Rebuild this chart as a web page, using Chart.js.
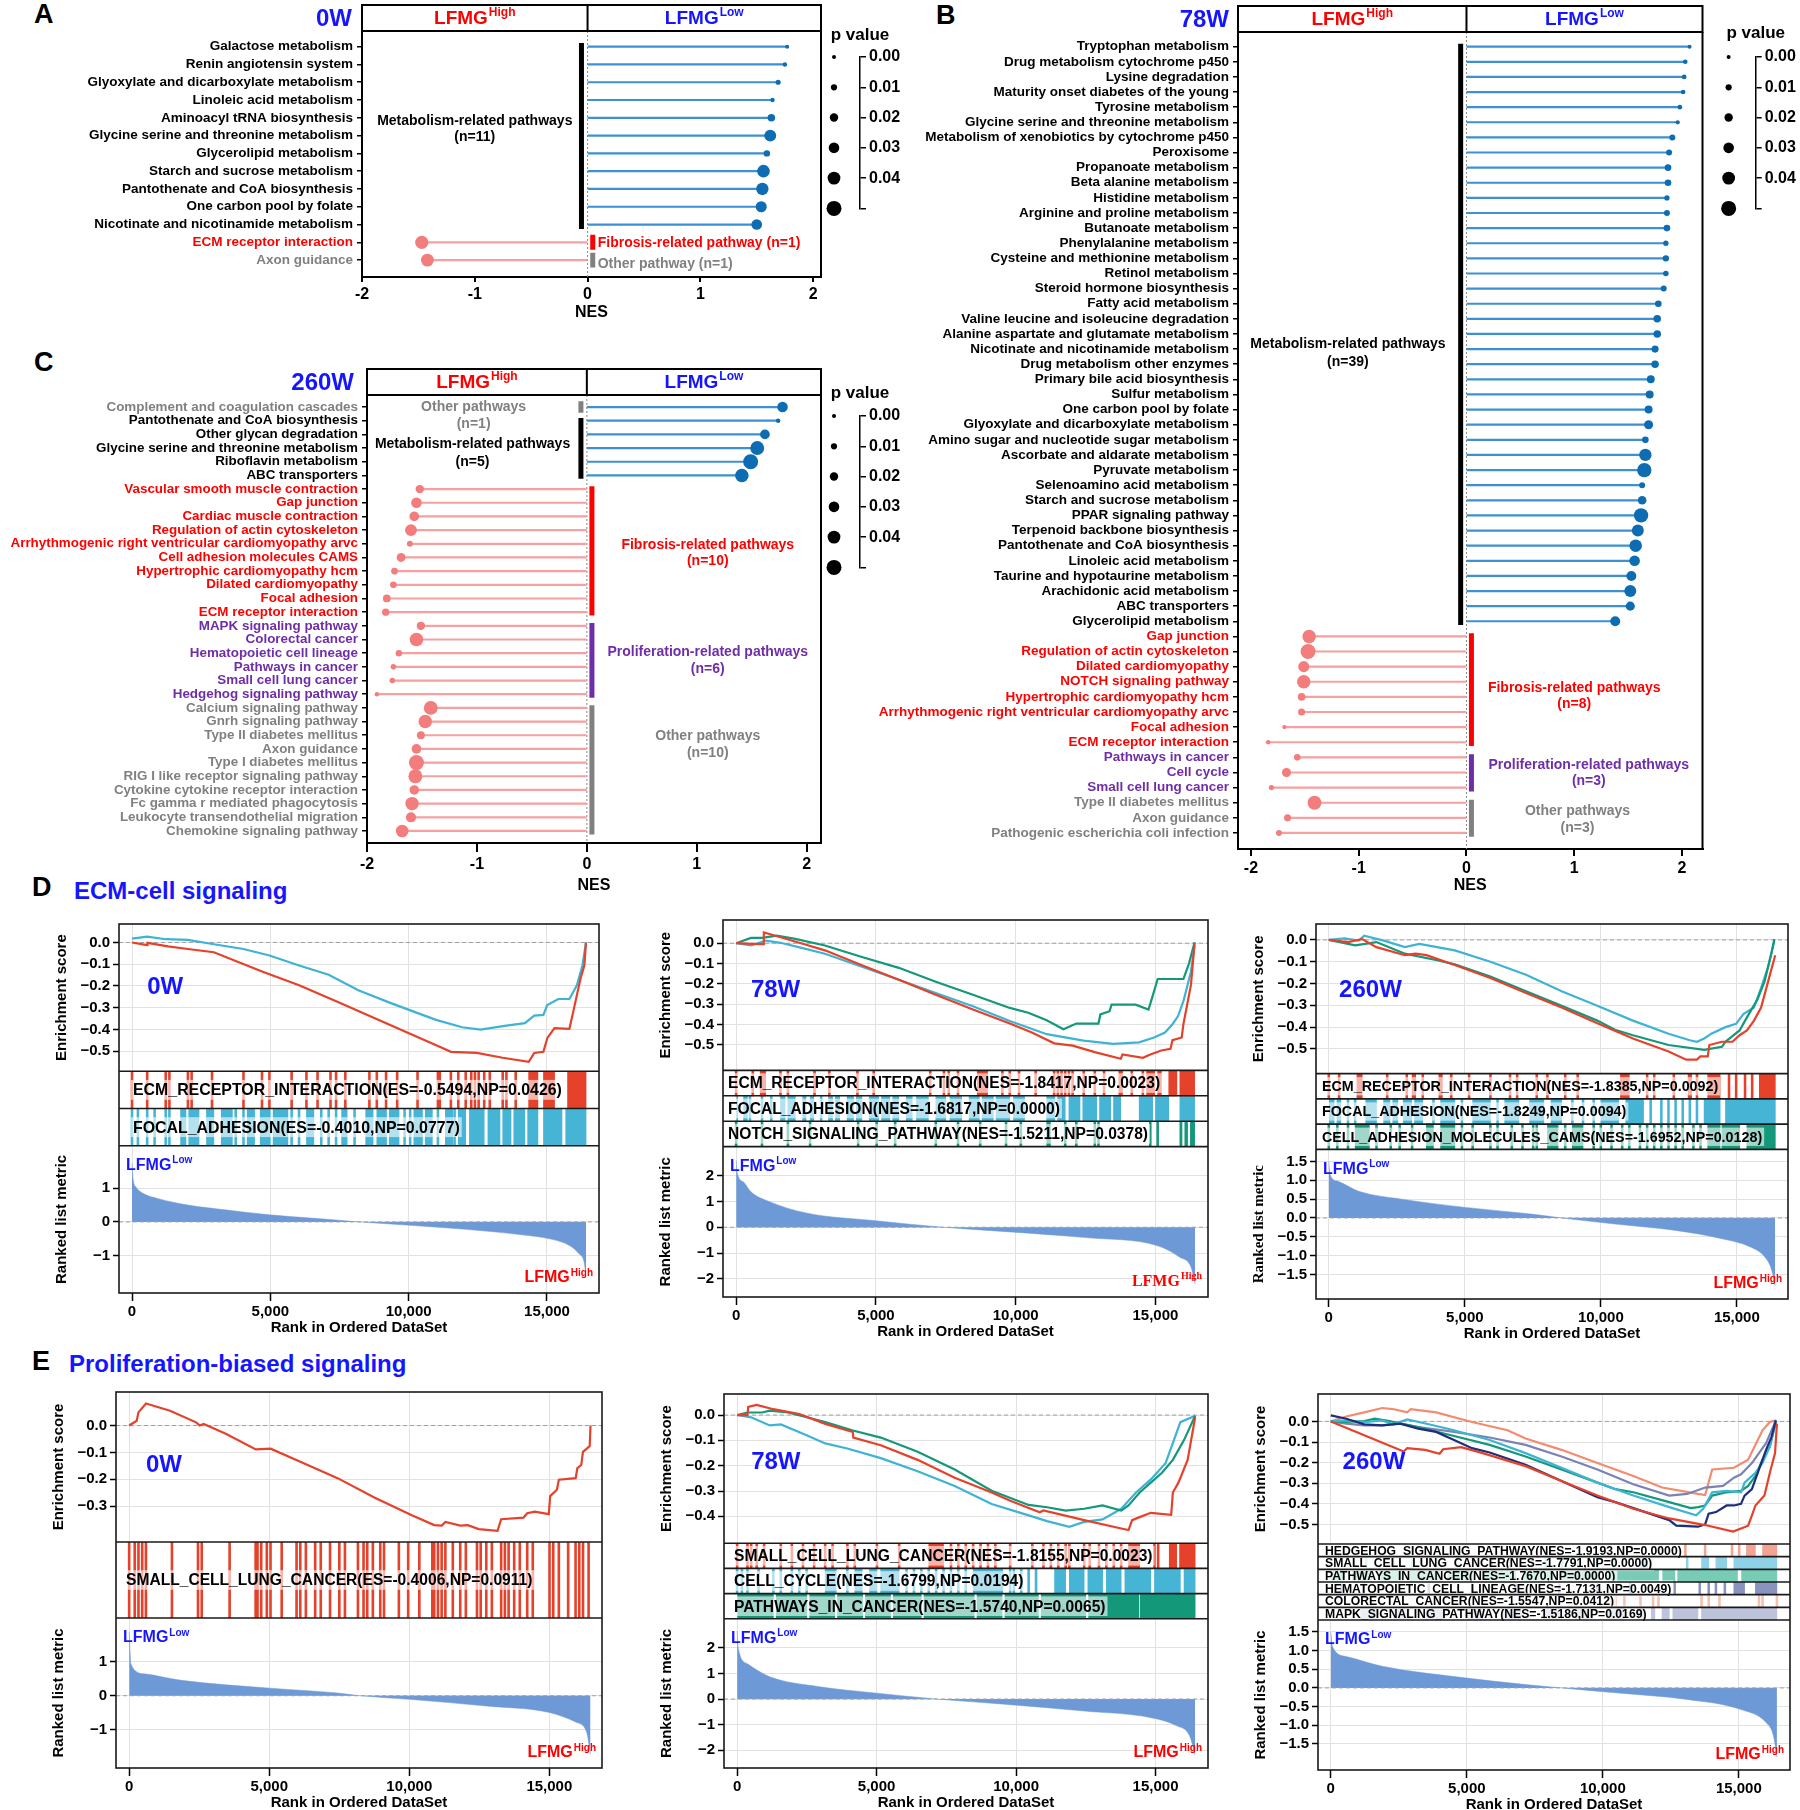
<!DOCTYPE html>
<html>
<head>
<meta charset="utf-8">
<title>LFMG GSEA summary</title>
<script src="https://cdn.jsdelivr.net/npm/chart.js"></script>
<style>
  html, body { margin: 0; padding: 0; background: #fff; }
  body { position: relative; width: 1800px; height: 1810px; overflow: hidden; font-family: "Liberation Sans", Arial, sans-serif; }
  canvas { position: absolute; }
  .tag { position: absolute; font-weight: bold; line-height: 1; white-space: nowrap; }
</style>
</head>
<body>
<div class="tag" style="left:34px;top:1px;font-size:27px">A</div>
<div class="tag" style="left:936px;top:2px;font-size:27px">B</div>
<div class="tag" style="left:34px;top:349px;font-size:27px">C</div>
<div class="tag" style="left:32px;top:874px;font-size:27px">D</div>
<div class="tag" style="left:74px;top:879px;font-size:24px;color:#1515ff">ECM-cell signaling</div>
<div class="tag" style="left:32px;top:1348px;font-size:27px">E</div>
<div class="tag" style="left:69px;top:1352px;font-size:24px;color:#1515ff">Proliferation-biased signaling</div>

<canvas id="cA" width="835" height="326" style="left:0px;top:0px"></canvas>
<canvas id="lA" width="120" height="205" style="left:800px;top:16px"></canvas>
<canvas id="cB" width="860" height="899" style="left:850px;top:0px"></canvas>
<canvas id="lB" width="106" height="205" style="left:1694px;top:16px"></canvas>
<canvas id="cC" width="835" height="535" style="left:0px;top:364px"></canvas>
<canvas id="lC" width="120" height="205" style="left:800px;top:375px"></canvas>

<canvas id="cD1" width="552" height="429" style="left:53px;top:912px"></canvas>
<canvas id="cD2" width="557" height="437" style="left:657px;top:908px"></canvas>
<canvas id="cD3" width="544" height="435" style="left:1250px;top:912px"></canvas>
<canvas id="cE1" width="558" height="436" style="left:50px;top:1380px"></canvas>
<canvas id="cE2" width="556" height="434" style="left:658px;top:1382px"></canvas>
<canvas id="cE3" width="544" height="436" style="left:1252px;top:1382px"></canvas>

<script>
// ---------- panel A (0W) ----------
const catsA = ['Galactose metabolism', 'Renin angiotensin system', 'Glyoxylate and dicarboxylate metabolism',
  'Linoleic acid metabolism', 'Aminoacyl tRNA biosynthesis', 'Glycine serine and threonine metabolism',
  'Glycerolipid metabolism', 'Starch and sucrose metabolism', 'Pantothenate and CoA biosynthesis',
  'One carbon pool by folate', 'Nicotinate and nicotinamide metabolism', 'ECM receptor interaction', 'Axon guidance'];
const nesA = [1.77, 1.75, 1.69, 1.64, 1.63, 1.62, 1.59, 1.56, 1.55, 1.54, 1.50, -1.47, -1.42];
const pA = [0.0, 0.002, 0.005, 0.002, 0.016, 0.036, 0.011, 0.039, 0.038, 0.032, 0.03, 0.042, 0.04];
const groupsA = [
  {name: 'Metabolism-related pathways', kind: 'met', from: 0, to: 10},
  {name: 'Fibrosis-related pathway', kind: 'fib', from: 11, to: 11},
  {name: 'Other pathway', kind: 'oth', from: 12, to: 12}
];

// ---------- panel B (78W) ----------
const catsB = ['Tryptophan metabolism', 'Drug metabolism cytochrome p450', 'Lysine degradation',
  'Maturity onset diabetes of the young', 'Tyrosine metabolism', 'Glycine serine and threonine metabolism',
  'Metabolism of xenobiotics by cytochrome p450', 'Peroxisome', 'Propanoate metabolism', 'Beta alanine metabolism',
  'Histidine metabolism', 'Arginine and proline metabolism', 'Butanoate metabolism', 'Phenylalanine metabolism',
  'Cysteine and methionine metabolism', 'Retinol metabolism', 'Steroid hormone biosynthesis', 'Fatty acid metabolism',
  'Valine leucine and isoleucine degradation', 'Alanine aspartate and glutamate metabolism',
  'Nicotinate and nicotinamide metabolism', 'Drug metabolism other enzymes', 'Primary bile acid biosynthesis',
  'Sulfur metabolism', 'One carbon pool by folate', 'Glyoxylate and dicarboxylate metabolism',
  'Amino sugar and nucleotide sugar metabolism', 'Ascorbate and aldarate metabolism', 'Pyruvate metabolism',
  'Selenoamino acid metabolism', 'Starch and sucrose metabolism', 'PPAR signaling pathway',
  'Terpenoid backbone biosynthesis', 'Pantothenate and CoA biosynthesis', 'Linoleic acid metabolism',
  'Taurine and hypotaurine metabolism', 'Arachidonic acid metabolism', 'ABC transporters', 'Glycerolipid metabolism',
  'Gap junction', 'Regulation of actin cytoskeleton', 'Dilated cardiomyopathy', 'NOTCH signaling pathway',
  'Hypertrophic cardiomyopathy hcm', 'Arrhythmogenic right ventricular cardiomyopathy arvc', 'Focal adhesion',
  'ECM receptor interaction', 'Pathways in cancer', 'Cell cycle', 'Small cell lung cancer',
  'Type II diabetes mellitus', 'Axon guidance', 'Pathogenic escherichia coli infection'];
const nesB = [2.07, 2.03, 2.02, 2.01, 1.98, 1.96, 1.91, 1.88, 1.87, 1.87, 1.86, 1.86, 1.86, 1.85, 1.85, 1.85, 1.83,
  1.78, 1.77, 1.77, 1.75, 1.75, 1.71, 1.70, 1.69, 1.69, 1.66, 1.66, 1.65, 1.63, 1.63, 1.62, 1.59, 1.57, 1.56, 1.53,
  1.52, 1.52, 1.38,
  -1.46, -1.47, -1.51, -1.51, -1.53, -1.53, -1.69, -1.84,
  -1.57, -1.67, -1.81,
  -1.41, -1.66, -1.74];
const pB = [0.0, 0.003, 0.003, 0.003, 0.003, 0.001, 0.009, 0.009, 0.012, 0.012, 0.006, 0.009, 0.012, 0.006, 0.011,
  0.007, 0.009, 0.012, 0.016, 0.016, 0.014, 0.016, 0.018, 0.018, 0.018, 0.023, 0.012, 0.038, 0.047, 0.009, 0.021,
  0.047, 0.036, 0.039, 0.03, 0.027, 0.036, 0.023, 0.027,
  0.043, 0.05, 0.032, 0.043, 0.016, 0.014, 0.001, 0.002,
  0.012, 0.023, 0.005,
  0.045, 0.014, 0.009];
const groupsB = [
  {name: 'Metabolism-related pathways', kind: 'met', from: 0, to: 38},
  {name: 'Fibrosis-related pathways', kind: 'fib', from: 39, to: 46},
  {name: 'Proliferation-related pathways', kind: 'pro', from: 47, to: 49},
  {name: 'Other pathways', kind: 'oth', from: 50, to: 52}
];

// ---------- panel C (260W) ----------
const catsC = ['Complement and coagulation cascades', 'Pantothenate and CoA biosynthesis', 'Other glycan degradation',
  'Glycine serine and threonine metabolism', 'Riboflavin metabolism', 'ABC transporters',
  'Vascular smooth muscle contraction', 'Gap junction', 'Cardiac muscle contraction', 'Regulation of actin cytoskeleton',
  'Arrhythmogenic right ventricular cardiomyopathy arvc', 'Cell adhesion molecules CAMS', 'Hypertrophic cardiomyopathy hcm',
  'Dilated cardiomyopathy', 'Focal adhesion', 'ECM receptor interaction',
  'MAPK signaling pathway', 'Colorectal cancer', 'Hematopoietic cell lineage', 'Pathways in cancer',
  'Small cell lung cancer', 'Hedgehog signaling pathway',
  'Calcium signaling pathway', 'Gnrh signaling pathway', 'Type II diabetes mellitus', 'Axon guidance',
  'Type I diabetes mellitus', 'RIG I like receptor signaling pathway', 'Cytokine cytokine receptor interaction',
  'Fc gamma r mediated phagocytosis', 'Leukocyte transendothelial migration', 'Chemokine signaling pathway'];
const nesC = [1.78, 1.74, 1.62, 1.55, 1.49, 1.41,
  -1.52, -1.55, -1.57, -1.60, -1.61, -1.69, -1.75, -1.76, -1.82, -1.83,
  -1.51, -1.55, -1.71, -1.76, -1.77, -1.91,
  -1.42, -1.47, -1.51, -1.55, -1.55, -1.56, -1.57, -1.59, -1.60, -1.68];
const pC = [0.03, 0.002, 0.026, 0.045, 0.05, 0.043,
  0.02, 0.03, 0.026, 0.036, 0.009, 0.022, 0.012, 0.012, 0.017, 0.015,
  0.02, 0.044, 0.011, 0.007, 0.007, 0.002,
  0.045, 0.043, 0.018, 0.026, 0.05, 0.045, 0.025, 0.043, 0.028, 0.039];
const groupsC = [
  {name: 'Other pathways', kind: 'oth', from: 0, to: 0},
  {name: 'Metabolism-related pathways', kind: 'met', from: 1, to: 5},
  {name: 'Fibrosis-related pathways', kind: 'fib', from: 6, to: 15},
  {name: 'Proliferation-related pathways', kind: 'pro', from: 16, to: 21},
  {name: 'Other pathways', kind: 'oth', from: 22, to: 31}
];

const pLevels = [0, 0.01, 0.02, 0.03, 0.04, 0.05];

// ---------- D: ECM-cell signaling ----------
const d1Labels = ['ECM_RECEPTOR_INTERACTION(ES=-0.5494,NP=0.0426)', 'FOCAL_ADHESION(ES=-0.4010,NP=0.0777)'];
const d1EcmEs = [[0,0],[550,-0.012],[560,-0.002],[1300,-0.018],[2020,-0.03],[2960,-0.045],[4700,-0.133],[6040,-0.197],
  [7380,-0.27],[8715,-0.345],[10050,-0.42],[11120,-0.48],[11530,-0.503],[12460,-0.508],[13400,-0.53],[14340,-0.549],
  [14540,-0.508],[14870,-0.503],[15010,-0.44],[15270,-0.394],[15810,-0.397],[15950,-0.318],[16210,-0.167],
  [16350,-0.106],[16410,0]];
const d1FocalEs = [[0,0.018],[550,0.027],[1220,0.015],[2020,0.012],[2960,-0.008],[4030,-0.03],[4970,-0.06],
  [6040,-0.106],[7110,-0.148],[8180,-0.22],[9380,-0.28],[10990,-0.356],[11930,-0.39],[12600,-0.401],[13530,-0.382],
  [14200,-0.371],[14540,-0.336],[14870,-0.333],[15010,-0.288],[15410,-0.26],[15810,-0.26],[16080,-0.197],
  [16280,-0.106],[16410,0]];
const d1EcmHits = [0, 549, 1218, 1352, 2021, 2155, 2892, 4030, 4699, 4967, 5770, 6305, 6707, 7175, 7376, 7711, 8581,
  8849, 9183, 9585, 10321, 11058, 11124, 11526, 11794, 12062, 12262, 12396, 12530, 12731, 12932, 13400, 13534, 13869,
  [14337,14672], [14873,15274], [15743,16412]];
const d1FocalHits = [0, 214, 549, 817, 1218, 1352, [1755,1950], [2050,2423], [2691,2958], [3226,3628], 3748, 4030,
  [4163,4431], [4633,5000], [5100,5636], 5770, 6038, [6305,6573], 6841, 7108, 7376, [7576,7777], 8045, [8447,8715],
  [8849,9200], [9300,9653], 9853, 10054, [10187,10500], [10600,10856], 11058, [11326,11593], 11660, [11794,12062],
  [12196,12731], [12865,13300], [13400,13700], [13800,14200], [14300,14672], [14873,15542], [15676,16412]];
const d1Metric = [[0,1.75],[40,1.27],[150,1.03],[415,0.84],[950,0.69],[2020,0.5],[3360,0.36],[4970,0.21],[6710,0.1],
  [8050,0.01],[10050,-0.1],[12060,-0.22],[14070,-0.38],[15140,-0.51],[15810,-0.7],[16150,-0.94],[16350,-1.23],
  [16410,-1.66]];

const d2Labels = ['ECM_RECEPTOR_INTERACTION(NES=-1.8417,NP=0.0023)', 'FOCAL_ADHESION(NES=-1.6817,NP=0.0000)',
  'NOTCH_SIGNALING_PATHWAY(NES=-1.5211,NP=0.0378)'];
const d2EcmEs = [[0,0],[595,-0.003],[980,-0.005],[990,0.053],[1590,0.029],[2380,-0.003],[3175,-0.035],[4500,-0.108],
  [5820,-0.18],[7140,-0.253],[8470,-0.326],[9790,-0.395],[10580,-0.439],[11380,-0.492],[12040,-0.503],
  [12830,-0.535],[13760,-0.568],[13820,-0.547],[14550,-0.563],[14815,-0.547],[15210,-0.527],[15540,-0.519],
  [15610,-0.476],[15940,-0.463],[16000,-0.398],[16270,-0.205],[16400,0]];
const d2FocalEs = [[0,0],[530,-0.011],[1060,0.013],[1590,0.002],[2380,-0.024],[3175,-0.052],[4500,-0.116],
  [5820,-0.18],[7140,-0.245],[8470,-0.31],[9790,-0.382],[11110,-0.447],[12430,-0.479],[13490,-0.495],
  [14420,-0.487],[14950,-0.463],[15340,-0.439],[15610,-0.398],[15810,-0.358],[16000,-0.285],[16270,-0.14],
  [16400,-0.011]];
const d2NotchEs = [[0,0],[530,0.026],[930,0.026],[1455,0.037],[2116,0.021],[3175,-0.011],[4500,-0.068],[5820,-0.121],
  [7140,-0.189],[8470,-0.253],[9790,-0.318],[10450,-0.342],[11110,-0.379],[11710,-0.423],[12170,-0.395],
  [12960,-0.395],[13030,-0.35],[13360,-0.334],[13430,-0.302],[14290,-0.302],[14750,-0.326],[14880,-0.269],
  [15080,-0.176],[16000,-0.176],[16200,-0.1],[16400,0.005]];
const d2EcmHits = [0, 595, [860,1058], 1587, 1852, 2804, 3333, 4339, 4921, 6944, 7434, 7606, 7937, [8624,8995], 9524,
  9788, 10119, 10714, 11376, 11508, 11640, 11772, 11905, 12037, 12434, 12831, 13161, [13690,13823], 14153, 14550,
  [14683,14974], [15079,15212], [15476,15767], [15873,16402]];
const d2FocalHits = [[0,60], [265,400], [460,529], 926, 1257, [1587,1750], [1850,2116], [2381,2500], [2650,2778], 3042,
  [3307,3450], [3550,3704], [3968,4200], [4300,4497], [4762,5100], [5200,5500], [5600,5820], [6085,6300], [6450,6878],
  [7143,7500], [7650,8069], [8333,8700], [8800,9200], [9300,9788], [9921,10317], [11111,11400], [11500,11772],
  [11905,12300], [12400,12900], [13000,13400], [13500,13757], [14418,14900], [15000,15476], [15873,16402]];
const d2NotchHits = [0, 926, 1852, 2646, 4365, 5026, 5688, 7143, 7937, 8730, 9656, 10185, [11111,11243], 11772, 12169,
  12831, 12963, 14815, 15079, [15873,15950], [16050,16150], [16250,16402]];
const d2Metric = [[0,2.6],[40,2.1],[265,1.75],[530,1.37],[1190,0.99],[2510,0.55],[5000,0.25],[7400,0],[9800,-0.18],
  [12500,-0.4],[15080,-0.72],[15870,-1.16],[16270,-1.54],[16420,-2.2]];

const d3Labels = ['ECM_RECEPTOR_INTERACTION(NES=-1.8385,NP=0.0092)', 'FOCAL_ADHESION(NES=-1.8249,NP=0.0094)',
  'CELL_ADHESION_MOLECULES_CAMS(NES=-1.6952,NP=0.0128)'];
const d3EcmEs = [[0,0],[710,-0.01],[1230,0.004],[1750,-0.033],[2800,-0.07],[3190,-0.063],[3590,-0.07],[4630,-0.115],
  [5940,-0.175],[7250,-0.243],[8560,-0.31],[9870,-0.382],[11180,-0.452],[12490,-0.512],[13140,-0.549],
  [13530,-0.549],[13660,-0.534],[13930,-0.534],[13990,-0.482],[14450,-0.467],[14840,-0.467],[15100,-0.437],
  [15370,-0.415],[15630,-0.37],[15890,-0.31],[16150,-0.19],[16410,-0.07]];
const d3FocalEs = [[0,0],[580,0.007],[1100,-0.003],[1300,0.019],[2020,-0.003],[2800,-0.033],[3330,-0.018],
  [3980,-0.033],[4630,-0.048],[5940,-0.1],[7250,-0.16],[8560,-0.235],[9870,-0.302],[11180,-0.37],[12490,-0.43],
  [13270,-0.46],[13530,-0.467],[13800,-0.452],[14060,-0.43],[14580,-0.4],[14970,-0.385],[15240,-0.34],
  [15630,-0.31],[15890,-0.22],[16150,-0.123],[16380,-0.003]];
const d3CamsEs = [[0,0],[970,-0.025],[1750,-0.01],[2800,-0.063],[3980,-0.093],[4630,-0.112],[5940,-0.168],
  [7250,-0.235],[8560,-0.302],[9870,-0.37],[10520,-0.412],[11180,-0.437],[12490,-0.482],[13800,-0.504],
  [14450,-0.49],[14580,-0.467],[15100,-0.415],[15370,-0.355],[15760,-0.272],[16020,-0.19],[16280,-0.055],
  [16380,0.004]];
const d3EcmHits = [0, 380, [1034,1230], 2147, 2866, [3063,3194], 3455, [4045,4175], 4503, 5157, 5942, 6662, 6924, 7644,
  8037, 8691, 9149, [10720,11047], 11702, 11963, 12683, [13207,13338], 13534, [13927,14385], 14712, 14974, 15301,
  15563, [15825,16414]];
const d3FocalHits = [[0,200], [300,445], 707, 969, [1358,1754], [2016,2250], [2350,2539], [2736,3050], [3150,3455], 3848,
  [4110,4634], 4895, [5288,5942], 6204, [6466,6990], [7382,7906], [8168,8560], 8953, 9346, 9738, [10000,10654],
  [10916,11571], 11832, 12225, 12487, 12749, 13010, 13272, 13534, [13796,14385], [14581,16414]];
const d3CamsHits = [0, 314, 707, [969,1492], 1754, 2278, 2605, 3063, [3586,3848], [4110,4634], 4895, 5288, 5942, 6204,
  6728, 7120, 7513, 7644, [8037,8429], 8691, [8953,9346], 9738, 10000, 10393, 10785, 11047, 11440, 11702, 11963, 12225,
  12487, 12749, 13010, 13403, 13665, [13927,14385], [14450,15105], [15366,16414]];
const d3Metric = [[0,1.5],[50,1.15],[314,0.98],[1100,0.71],[2670,0.5],[5030,0.28],[7510,0.1],[8560,0],[10520,-0.16],
  [12750,-0.33],[14450,-0.55],[15500,-0.77],[16020,-1.03],[16280,-1.38],[16410,-1.81]];

// ---------- E: proliferation-biased signaling ----------
const e1Labels = ['SMALL_CELL_LUNG_CANCER(ES=-0.4006,NP=0.0911)'];
const e1SclcEs = [[0,0],[270,0.018],[330,0.049],[600,0.082],[1460,0.055],[2390,0.012],[2520,0],[2660,0.006],
  [3450,-0.031],[4520,-0.089],[5050,-0.086],[6110,-0.135],[7440,-0.196],[8770,-0.269],[10090,-0.334],
  [10890,-0.371],[11160,-0.373],[11290,-0.359],[11820,-0.373],[12090,-0.371],[12480,-0.386],[13150,-0.392],
  [13280,-0.349],[14080,-0.343],[14210,-0.327],[14480,-0.321],[14980,-0.33],[15030,-0.263],[15270,-0.239],
  [15340,-0.202],[15940,-0.196],[16000,-0.159],[16140,-0.147],[16200,-0.098],[16440,-0.077],[16470,0]];
const e1SclcHits = [0, 199, 332, 465, 598, 1527, 2457, 2590, 3586, 4515, 4582, 4714, 4914, 5046, 5445, 5976, 6109, 6308,
  6640, 6839, 7171, 7503, 7703, 8167, 8367, 8499, 8699, 8964, 9097, 9628, 9960, 10359, 10823, 10890, 11023, 11155,
  11288, 11554, 11819, 12019, 12417, 12550, 12749, 12948, 13280, 13413, 13546, 13745, 13944, 14210, 14409, 15007,
  15139, 15339, 15671, 15936, 16069, 16202, 16401];
const e1Metric = [[0,1.87],[66,0.92],[530,0.64],[1860,0.45],[5050,0.22],[7440,0.08],[8230,0],[10090,-0.11],
  [12750,-0.3],[15000,-0.49],[15940,-0.77],[16330,-1.06],[16470,-1.72]];

const e2Labels = ['SMALL_CELL_LUNG_CANCER(NES=-1.8155,NP=0.0023)', 'CELL_CYCLE(NES=-1.6799,NP=0.0194)',
  'PATHWAYS_IN_CANCER(NES=-1.5740,NP=0.0065)'];
const e2SclcEs = [[0,0],[370,0],[400,0.032],[700,0.04],[1300,0.023],[2230,0.004],[3160,-0.035],[4150,-0.067],
  [4165,-0.089],[5150,-0.119],[6470,-0.177],[7800,-0.248],[9125,-0.306],[9790,-0.338],[10850,-0.384],
  [10980,-0.377],[12440,-0.415],[13770,-0.448],[14030,-0.454],[14160,-0.415],[14430,-0.403],[14830,-0.386],
  [15560,-0.394],[15620,-0.306],[15820,-0.267],[16150,-0.177],[16420,-0.009]];
const e2CycleEs = [[0,0],[500,-0.009],[1170,-0.041],[1570,-0.037],[2490,-0.08],[3160,-0.112],[3950,-0.132],
  [5150,-0.17],[6470,-0.222],[7800,-0.28],[9125,-0.351],[10450,-0.396],[11110,-0.419],[11910,-0.441],
  [12440,-0.422],[13100,-0.412],[13770,-0.37],[14300,-0.306],[14830,-0.254],[15360,-0.19],[15890,-0.028],
  [16420,-0.003]];
const e2PathEs = [[0,0],[370,0.01],[900,0.01],[1170,0.017],[1830,0.01],[2490,-0.009],[3160,-0.028],[4150,-0.061],
  [5150,-0.089],[6470,-0.145],[7800,-0.215],[9125,-0.299],[10450,-0.355],[11110,-0.364],[11780,-0.377],
  [12440,-0.37],[13100,-0.357],[13770,-0.377],[14030,-0.357],[14430,-0.306],[14830,-0.267],[15230,-0.228],
  [15620,-0.177],[16020,-0.099],[16420,-0.003]];
const e2SclcHits = [0, 371, 504, 703, 968, 1565, 1963, 2361, 2759, 3156, 3422, 3952, 4218, 5013, 5809, [6870,7401],
  7666, 7931, 8196, 8462, 8727, 8992, 9257, 9788, 10584, 10981, 11247, 11512, 11777, 11910, 12440, 12639, 12971, 13236,
  13501, 13767, [14032,14430], 14960, 15093, [15491,15756], [15860,16419]];
const e2CycleHits = [0, 172, 371, 769, 1300, 1565, 1963, 2228, 2493, [3156,3554], 3952, [4218,4483], [4748,5013],
  [5146,5809], 6074, 6340, 6605, 6870, 7135, 7401, 7666, 7931, 8196, [8462,9523], 9788, 9920, 10186, 10451, 10716,
  [11379,11777], [11910,12440], [12573,13103], [13236,13767], [13900,14828], [14960,15889], [16021,16419]];
const e2PathHits = [[0,1300], [1400,2500], [2600,3500], [3600,4500], [4600,5500], [5600,6600], [6700,8500],
  [8600,9500], [9600,10800], [10900,12500], [12600,14400], [14450,16419]];
const e2Metric = [[0,2.67],[40,2.0],[370,1.38],[1170,0.87],[2890,0.49],[5010,0.23],[7135,0],[9790,-0.22],
  [12440,-0.47],[14830,-0.73],[15760,-1.05],[16220,-1.44],[16420,-2.2]];

const e3Labels = ['HEDGEHOG_SIGNALING_PATHWAY(NES=-1.9193,NP=0.0000)', 'SMALL_CELL_LUNG_CANCER(NES=-1.7791,NP=0.0000)',
  'PATHWAYS_IN_CANCER(NES=-1.7670,NP=0.0000)', 'HEMATOPOIETIC_CELL_LINEAGE(NES=-1.7131,NP=0.0049)',
  'COLORECTAL_CANCER(NES=-1.5547,NP=0.0412)', 'MAPK_SIGNALING_PATHWAY(NES=-1.5186,NP=0.0169)'];
const e3HedgeEs = [[0,0],[2680,-0.146],[2810,-0.13],[3470,-0.138],[4000,-0.157],[4130,-0.135],[4790,-0.125],
  [5580,-0.154],[7160,-0.217],[8480,-0.289],[9800,-0.36],[11120,-0.424],[12440,-0.471],[13760,-0.503],
  [14790,-0.535],[15340,-0.506],[15480,-0.456],[15610,-0.408],[15940,-0.36],[16140,-0.249],[16330,-0.154],
  [16400,-0.011]];
const e3SclcEs = [[0,0],[570,0.005],[1230,-0.003],[1890,0.005],[2280,-0.014],[2810,0.01],[3600,-0.014],[4530,-0.043],
  [5840,-0.09],[7160,-0.154],[8480,-0.225],[9800,-0.297],[11120,-0.36],[12440,-0.416],[13430,-0.456],
  [13690,-0.424],[14020,-0.344],[14550,-0.337],[15080,-0.344],[15210,-0.297],[15610,-0.249],[15870,-0.202],
  [16140,-0.122],[16360,0.005]];
const e3PathEs = [[0,0],[570,-0.003],[1230,0.002],[1620,0.013],[2150,0.002],[3210,-0.027],[4530,-0.071],[5840,-0.114],
  [7160,-0.17],[8480,-0.233],[9800,-0.297],[10460,-0.329],[11120,-0.344],[12440,-0.392],[13230,-0.421],
  [13500,-0.416],[13760,-0.408],[14020,-0.36],[14550,-0.344],[15080,-0.337],[15340,-0.313],[15610,-0.265],
  [15870,-0.186],[16140,-0.122],[16360,-0.003]];
const e3HemaEs = [[0,0.029],[570,0.013],[1230,-0.014],[1890,-0.019],[2550,-0.011],[3210,-0.035],[3870,-0.051],
  [4530,-0.09],[5190,-0.13],[5840,-0.151],[7160,-0.21],[8480,-0.289],[9800,-0.368],[10460,-0.392],[11120,-0.421],
  [12440,-0.479],[12700,-0.506],[13500,-0.511],[13760,-0.5],[13890,-0.448],[14160,-0.44],[14550,-0.408],
  [14820,-0.408],[15080,-0.4],[15210,-0.36],[15480,-0.329],[15740,-0.233],[16000,-0.138],[16200,-0.075],
  [16360,0.005]];
const e3ColoEs = [[0,0],[570,0.024],[1230,0.044],[1890,0.065],[2280,0.06],[2810,0.044],[2940,0.06],[3870,0.044],
  [5190,-0.003],[6500,-0.043],[7160,-0.083],[8480,-0.138],[9800,-0.202],[11120,-0.265],[12180,-0.321],
  [13500,-0.352],[13760,-0.357],[14020,-0.233],[14820,-0.225],[15340,-0.186],[15870,-0.043],[16140,-0.003],
  [16360,0.005]];
const e3MapkEs = [[0,0],[570,-0.011],[1230,-0.019],[1890,-0.019],[2550,-0.011],[3210,-0.027],[4530,-0.051],
  [5840,-0.078],[7160,-0.114],[8480,-0.17],[9800,-0.233],[11120,-0.305],[12440,-0.36],[13100,-0.352],
  [13760,-0.321],[14420,-0.313],[14820,-0.273],[15080,-0.257],[15480,-0.202],[15740,-0.154],[16000,-0.106],
  [16360,0.005]];
const e3HedgeHits = [13034, 13760, 14749, 15013, [15277,15607], [15871,16398]];
const e3SclcHits = [1300, 2300, 3000, 3900, 4600, 5200, 5900, 6600, 7400, 7900, 8500, 9100, 9800, 10400, [11385,11649],
  11781, 13100, [13628,13892], [14156,14551], [14815,16398]];
const e3PathHits = [[0,500], [800,1500], [1800,2600], [2900,4000], [4300,5200], [5500,6800], [7100,8200], [8500,9900],
  [10200,12050], [12200,12650], [12750,14950], [15100,16398]];
const e3HemaHits = [400, 1200, 2500, 3600, 5200, 6800, 8400, 9800, 11000, 12639, 13562, 13892, 14156, 14485,
  [14815,15211], [15607,16398]];
const e3ColoHits = [1500, 4000, 7000, 9000, 10462, 10792, 11385, 11847, 12045, 13628, 13892, 14288, 15739, 15871, 16398];
const e3MapkHits = [[1100,1700], [2300,2900], [3500,4200], [5000,5600], [6300,7000], [7800,8400], [9000,9600],
  [10200,10800], [11253,11517], [11781,11913], [12177,12441], [12573,13496], [13628,16398]];
const e3Metric = [[0,1.5],[66,1.1],[570,0.84],[1890,0.58],[4920,0.27],[7160,0.09],[8480,0],[10460,-0.13],
  [13100,-0.31],[15080,-0.58],[16000,-0.93],[16270,-1.28],[16400,-1.86]];

// ---------- styles ----------
const FONT = '"Liberation Sans", Arial, Helvetica, sans-serif';
const SERIF = '"Liberation Serif", "Times New Roman", serif';
const BLUE_TXT = '#1515ff';
const RED_TXT = '#ff0000';
const KIND_COLOR = {met: '#000000', fib: '#ff0000', pro: '#6f2da8', oth: '#808080'};
const STEM_POS = '#3d91d2', DOT_POS = '#0e6cb3', STEM_NEG = '#f6a0a0', DOT_NEG = '#f37d7d';
const METRIC_FILL = '#6e99d7';
const RED = '#e5412b', CYAN = '#3eb3d3', GREEN = '#14987a', NAVY = '#1f2d7b', SALMON = '#f38b6f', LILAC = '#7b83b4';
const HIT_W = 70;
const X_MIN = -470, X_MAX = 16880;

Chart.defaults.font.family = FONT;
Chart.defaults.font.weight = 'bold';
Chart.defaults.color = '#000';

const pRadius = p => 2 + p * 110;
const xy = arr => arr.map(d => ({x: d[0], y: d[1]}));
const minus = s => String(s).replace('-', '\u2212');

function supText(ctx, x, y, base, sup, color, size, align, family) {
  const fam = family || FONT;
  const s2 = Math.round(size * 0.64);
  ctx.save();
  ctx.fillStyle = color;
  ctx.textBaseline = 'middle';
  ctx.textAlign = 'left';
  ctx.font = `bold ${size}px ${fam}`;
  const w1 = ctx.measureText(base).width;
  ctx.font = `bold ${s2}px ${fam}`;
  const w2 = ctx.measureText(sup).width;
  const total = w1 + w2 + 1;
  const left = align === 'center' ? x - total / 2 : align === 'right' ? x - total : x;
  ctx.font = `bold ${size}px ${fam}`;
  ctx.fillText(base, left, y);
  ctx.font = `bold ${s2}px ${fam}`;
  ctx.fillText(sup, left + w1 + 1, y - size * 0.32);
  ctx.restore();
}

function lollipop(id, c) {
  const kinds = c.cats.map((_, i) => c.groups.find(g => i >= g.from && i <= g.to).kind);
  const pos = [], neg = [];
  c.nes.forEach((v, i) => (v > 0 ? pos : neg).push(i));

  const dots = (idx, color) => ({
    data: idx.map(i => ({x: c.nes[i], y: i})),
    pointRadius: idx.map(i => pRadius(c.p[i])),
    pointBackgroundColor: color, pointBorderWidth: 0, clip: false
  });
  const stems = (idx, color) => ({
    data: idx.flatMap(i => [{x: 0, y: i}, {x: c.nes[i], y: i}, {x: null, y: null}]),
    showLine: true, borderColor: color, borderWidth: 2.2, pointRadius: 0
  });
  const bars = c.groups.map((g, k) => {
    const one = g.from === g.to;
    const gx = c.labels[k].side === 'L' ? -0.054 : 0.046;
    return {
      data: [{x: gx, y: g.from - (one ? 0.42 : 0.2)}, {x: gx, y: g.to + (one ? 0.42 : 0.25)}],
      showLine: true, borderColor: KIND_COLOR[g.kind], borderWidth: 5, borderCapStyle: 'butt', pointRadius: 0
    };
  });
  const zero = {
    data: [{x: 0, y: c.yMin}, {x: 0, y: c.yMax}],
    showLine: true, borderColor: '#8a8a8a', borderWidth: 1, borderDash: [2, 2], pointRadius: 0
  };

  const deco = {
    id: 'deco',
    afterDraw(chart) {
      const {ctx, chartArea: a} = chart;
      const xs = chart.scales.x, ys = chart.scales.y;
      const x0 = xs.getPixelForValue(0);
      const hy = a.top - c.headH / 2;
      ctx.save();
      ctx.strokeStyle = '#000';
      ctx.lineWidth = 2;
      ctx.strokeRect(a.left, a.top - c.headH, a.right - a.left, c.headH);
      ctx.beginPath();
      ctx.moveTo(x0, a.top - c.headH); ctx.lineTo(x0, a.top);
      ctx.moveTo(a.right, a.top); ctx.lineTo(a.right, a.bottom);
      ctx.stroke();
      supText(ctx, (a.left + x0) / 2, hy + 1, 'LFMG', 'High', RED_TXT, 19, 'center');
      supText(ctx, (x0 + a.right) / 2, hy + 1, 'LFMG', 'Low', BLUE_TXT, 19, 'center');
      ctx.font = `bold 24px ${FONT}`;
      ctx.fillStyle = BLUE_TXT;
      ctx.textAlign = 'right';
      ctx.textBaseline = 'middle';
      ctx.fillText(c.time, a.left - c.timeGap, hy + 1);
      ctx.font = `bold 14px ${FONT}`;
      c.groups.forEach((g, k) => {
        const L = c.labels[k];
        const n = g.to - g.from + 1;
        const lines = L.inline ? [`${g.name} (n=${n})`] : [g.name, `(n=${n})`];
        ctx.fillStyle = KIND_COLOR[g.kind];
        ctx.textAlign = L.align || 'center';
        lines.forEach((t, j) => ctx.fillText(t, xs.getPixelForValue(L.x), ys.getPixelForValue(L.rows[j])));
      });
      ctx.restore();
    }
  };

  new Chart(document.getElementById(id), {
    type: 'scatter',
    data: {datasets: [dots(pos, DOT_POS), dots(neg, DOT_NEG), stems(pos, STEM_POS), stems(neg, STEM_NEG), ...bars, zero]},
    options: {
      animation: false, responsive: false, events: [],
      layout: {padding: {top: c.padTop, right: c.padRight, left: 0, bottom: 0}},
      plugins: {legend: {display: false}, tooltip: {enabled: false}},
      scales: {
        x: {
          type: 'linear', min: c.xMin, max: c.xMax,
          afterBuildTicks: s => { s.ticks = [-2, -1, 0, 1, 2].map(v => ({value: v})); },
          afterFit: s => { s.height = c.xAxisH; },
          ticks: {font: {size: 16, weight: 'bold'}, color: '#000', padding: 3},
          grid: {drawOnChartArea: false, tickLength: c.tickLen, tickColor: '#000', lineWidth: 2},
          border: {color: '#000', width: 2},
          title: {display: true, text: 'NES', font: {size: 16, weight: 'bold'}, color: '#000', padding: {top: 0, bottom: 4}}
        },
        y: {
          type: 'linear', reverse: true, min: c.yMin, max: c.yMax,
          afterBuildTicks: s => { s.ticks = c.cats.map((_, i) => ({value: i})); },
          afterFit: s => { s.width = c.axisW; },
          ticks: {
            autoSkip: false, padding: 4,
            font: {size: c.rowFont, weight: 'bold'},
            color: ctx => KIND_COLOR[kinds[ctx.index]],
            callback: v => c.cats[v]
          },
          grid: {drawOnChartArea: false, tickLength: 5, tickColor: '#000', lineWidth: 1.5},
          border: {color: '#000', width: 2}
        }
      }
    },
    plugins: [deco]
  });
}

function pLegend(id, c) {
  const title = {
    id: 'ptitle',
    afterDraw(chart) {
      const {ctx, chartArea: a} = chart;
      ctx.save();
      ctx.font = `bold 17px ${FONT}`;
      ctx.fillStyle = '#000';
      ctx.textAlign = 'center';
      ctx.textBaseline = 'middle';
      ctx.fillText('p value', a.right, c.titleY);
      ctx.restore();
    }
  };
  new Chart(document.getElementById(id), {
    type: 'scatter',
    data: {datasets: [{
      data: pLevels.map(p => ({x: 0, y: p})),
      pointRadius: pLevels.map(pRadius), pointBackgroundColor: '#000', pointBorderWidth: 0, clip: false
    }]},
    options: {
      animation: false, responsive: false, events: [],
      layout: {padding: {top: c.padTop, bottom: c.padBottom, left: c.padLeft, right: 0}},
      plugins: {legend: {display: false}, tooltip: {enabled: false}},
      scales: {
        x: {display: false, min: -1, max: 1},
        y: {
          position: 'right', reverse: true, min: 0, max: 0.05,
          afterBuildTicks: s => { s.ticks = pLevels.map(v => ({value: v})); },
          afterFit: s => { s.width = c.axisW; },
          ticks: {autoSkip: false, callback: v => (v < 0.045 ? v.toFixed(2) : ''), font: {size: 16, weight: 'bold'}, color: '#000', padding: 3},
          grid: {drawOnChartArea: false, tickLength: 6, tickColor: '#000', lineWidth: 1.5},
          border: {color: '#000', width: 1.5}
        }
      }
    },
    plugins: [title]
  });
}

function gsea(id, c) {
  const names = c.hits.map(h => h.name);
  const line = (pts, color, axis) => ({
    type: 'scatter', showLine: true, xAxisID: 'x', yAxisID: axis, data: xy(pts),
    borderColor: color, borderWidth: 2.2, pointRadius: 0
  });
  const zero = axis => ({
    type: 'scatter', showLine: true, xAxisID: 'x', yAxisID: axis,
    data: [{x: X_MIN, y: 0}, {x: X_MAX, y: 0}],
    borderColor: '#a0a0a0', borderWidth: 1, borderDash: [4, 3], pointRadius: 0
  });
  const sets = c.curves.map(cv => line(cv.pts, cv.color, 'yES'));
  sets.push(zero('yES'));
  c.hits.forEach(h => sets.push({
    type: 'bar', indexAxis: 'y', xAxisID: 'x', yAxisID: 'yHit', grouped: false,
    barPercentage: 1, categoryPercentage: 1, borderWidth: 0, backgroundColor: h.color,
    data: h.list.map(r => ({x: Array.isArray(r) ? r : [r - HIT_W / 2, r + HIT_W / 2], y: h.name}))
  }));
  sets.push(zero('yRank'));
  sets.push({
    type: 'line', xAxisID: 'x', yAxisID: 'yRank', data: xy(c.metric), fill: 'origin',
    backgroundColor: METRIC_FILL, borderColor: METRIC_FILL, borderWidth: 0.5, pointRadius: 0,
    cubicInterpolationMode: 'monotone'
  });

  const tickFont = {size: 15, weight: 'bold'};
  const gridCfg = {color: '#e2e2e2', lineWidth: 1, tickLength: 6, tickColor: '#000', tickWidth: 1.5};
  const YW = 66;

  const deco = {
    id: 'gdeco',
    beforeDatasetsDraw(chart) {
      const {ctx, chartArea: a} = chart;
      const yh = chart.scales.yHit;
      ctx.save();
      ctx.fillStyle = '#fff';
      ctx.fillRect(a.left, yh.top, a.right - a.left, yh.bottom - yh.top);
      ctx.restore();
    },
    afterDatasetsDraw(chart) {
      const {ctx, chartArea: a} = chart;
      const xs = chart.scales.x, yh = chart.scales.yHit, ye = chart.scales.yES, yr = chart.scales.yRank;
      ctx.save();
      // hit labels
      ctx.font = `bold ${c.hitFont}px ${FONT}`;
      ctx.textBaseline = 'middle';
      ctx.textAlign = 'left';
      names.forEach((t, k) => {
        const ty = yh.getPixelForValue(k);
        const tx = a.left + (c.hitPad || 8);
        const w = ctx.measureText(t).width;
        ctx.fillStyle = c.hitBg || 'rgba(255,255,255,0.6)';
        ctx.fillRect(tx - 2, ty - c.hitFont / 2 - 2, w + 4, c.hitFont + 4);
        ctx.fillStyle = '#000';
        ctx.fillText(t, tx, ty + 1);
      });
      // frame
      ctx.strokeStyle = '#1a1a1a';
      ctx.lineWidth = 1.6;
      ctx.strokeRect(a.left, a.top, a.right - a.left, a.bottom - a.top);
      ctx.beginPath();
      const bandH = (yh.bottom - yh.top) / names.length;
      for (let k = 0; k <= names.length; k++) {
        const yy = yh.top + k * bandH;
        ctx.moveTo(a.left, yy); ctx.lineTo(a.right, yy);
      }
      ctx.stroke();
      // time tag
      ctx.font = `bold 24px ${FONT}`;
      ctx.fillStyle = BLUE_TXT;
      ctx.textAlign = 'left';
      ctx.fillText(c.tag, xs.getPixelForValue(c.tagAt[0]), ye.getPixelForValue(c.tagAt[1]));
      ctx.restore();
      supText(ctx, a.left + 7, yr.top + 20, 'LFMG', 'Low', BLUE_TXT, 16, 'left');
      supText(ctx, a.right - 6, yr.bottom - 15, 'LFMG', 'High', RED_TXT, 16, 'right', c.highSerif ? SERIF : FONT);
    }
  };

  new Chart(document.getElementById(id), {
    type: 'scatter',
    data: {datasets: sets},
    options: {
      animation: false, responsive: false, events: [],
      layout: {padding: {top: 6, right: 6, left: 0, bottom: 0}},
      plugins: {legend: {display: false}, tooltip: {enabled: false}},
      scales: {
        x: {
          type: 'linear', position: 'bottom', min: X_MIN, max: X_MAX,
          afterBuildTicks: s => { s.ticks = [0, 5000, 10000, 15000].map(v => ({value: v})); },
          afterFit: s => { s.height = 48; },
          ticks: {autoSkip: false, maxRotation: 0, font: tickFont, color: '#000', padding: 2, callback: v => v.toLocaleString('en-US')},
          grid: Object.assign({}, gridCfg, {tickLength: 8}),
          border: {display: false},
          title: {display: true, text: 'Rank in Ordered DataSet', font: {size: 15, weight: 'bold'}, color: '#000', padding: {top: 0, bottom: 4}}
        },
        yES: {
          type: 'linear', position: 'left', stack: 'g', stackWeight: 152, weight: 3,
          min: c.es[0], max: c.es[1],
          afterBuildTicks: s => { s.ticks = c.esTicks.map(v => ({value: v})); },
          afterFit: s => { s.width = YW; },
          ticks: {autoSkip: false, font: tickFont, color: '#000', padding: 3, callback: v => minus(v.toFixed(1))},
          grid: gridCfg, border: {display: false},
          title: {display: true, text: 'Enrichment score', font: {size: 15, weight: 'bold'}, color: '#000', padding: {top: 0, bottom: 2}}
        },
        yHit: {
          type: 'category', position: 'left', stack: 'g', stackWeight: 77, weight: 2,
          labels: names, offset: true,
          afterFit: s => { s.width = YW; },
          ticks: {display: false}, grid: {display: false}, border: {display: false}
        },
        yRank: {
          type: 'linear', position: 'left', stack: 'g', stackWeight: 152, weight: 1,
          min: c.rk[0], max: c.rk[1],
          afterBuildTicks: s => { s.ticks = c.rkTicks.map(v => ({value: v})); },
          afterFit: s => { s.width = YW; },
          ticks: {autoSkip: false, font: tickFont, color: '#000', padding: 3, callback: v => minus(v.toFixed(c.rkDec))},
          grid: gridCfg, border: {display: false},
          title: {display: true, text: 'Ranked list metric', color: '#000', padding: {top: 0, bottom: 2},
            font: {size: 15, weight: 'bold', family: c.rankSerif ? SERIF : FONT}}
        }
      }
    },
    plugins: [deco]
  });
}

// ---------- build ----------
lollipop('cA', {
  cats: catsA, nes: nesA, p: pA, groups: groupsA,
  xMin: -2, xMax: 2.07, yMin: -0.88, yMax: 12.95,
  axisW: 362, padTop: 31, padRight: 14, headH: 26, xAxisH: 49, tickLen: 5, rowFont: 13.5,
  time: '0W', timeGap: 10,
  labels: [
    {x: -1.0, rows: [4.16, 5.1], side: 'L'},
    {x: 0.09, rows: [11.03], side: 'R', align: 'left', inline: true},
    {x: 0.09, rows: [12.2], side: 'R', align: 'left', inline: true}
  ]
});
lollipop('cB', {
  cats: catsB, nes: nesB, p: pB, groups: groupsB,
  xMin: -2.12, xMax: 2.19, yMin: -0.97, yMax: 53.06,
  axisW: 388, padTop: 32, padRight: 4, headH: 26, xAxisH: 50, tickLen: 7, rowFont: 13.5,
  time: '78W', timeGap: 9,
  labels: [
    {x: -1.10, rows: [19.67, 20.83], side: 'L'},
    {x: 1.0, rows: [42.4, 43.5], side: 'R'},
    {x: 1.135, rows: [47.5, 48.6], side: 'R'},
    {x: 1.03, rows: [50.55, 51.7], side: 'R'}
  ]
});
lollipop('cC', {
  cats: catsC, nes: nesC, p: pC, groups: groupsC,
  xMin: -2, xMax: 2.13, yMin: -0.88, yMax: 31.88,
  axisW: 367, padTop: 31, padRight: 14, headH: 26, xAxisH: 56, tickLen: 9, rowFont: 13.4,
  time: '260W', timeGap: 13,
  labels: [
    {x: -1.03, rows: [0, 1.25], side: 'L'},
    {x: -1.04, rows: [2.7, 4.0], side: 'L'},
    {x: 1.1, rows: [10.07, 11.3], side: 'R'},
    {x: 1.1, rows: [17.9, 19.2], side: 'R'},
    {x: 1.1, rows: [24.1, 25.3], side: 'R'}
  ]
});

pLegend('lA', {padTop: 41, padBottom: 10, padLeft: 8, axisW: 60, titleY: 19});
pLegend('lB', {padTop: 41, padBottom: 12, padLeft: 7.6, axisW: 44.3, titleY: 17});
pLegend('lC', {padTop: 41, padBottom: 11, padLeft: 8, axisW: 60, titleY: 18});

gsea('cD1', {
  curves: [{pts: d1EcmEs, color: RED}, {pts: d1FocalEs, color: CYAN}],
  hits: [{name: d1Labels[0], list: d1EcmHits, color: RED}, {name: d1Labels[1], list: d1FocalHits, color: '#46b5d5'}],
  metric: d1Metric, es: [-0.592, 0.085], esTicks: [0, -0.1, -0.2, -0.3, -0.4, -0.5],
  rk: [-2.11, 2.26], rkTicks: [1, 0, -1], rkDec: 0, tag: '0W', tagAt: [550, -0.205], hitFont: 15.9, hitPad: 14
});
gsea('cD2', {
  curves: [{pts: d2EcmEs, color: RED}, {pts: d2FocalEs, color: CYAN}, {pts: d2NotchEs, color: GREEN}],
  hits: [{name: d2Labels[0], list: d2EcmHits, color: RED}, {name: d2Labels[1], list: d2FocalHits, color: '#46b5d5'},
    {name: d2Labels[2], list: d2NotchHits, color: GREEN}],
  metric: d2Metric, es: [-0.625, 0.114], esTicks: [0, -0.1, -0.2, -0.3, -0.4, -0.5],
  rk: [-2.7, 3.12], rkTicks: [2, 1, 0, -1, -2], rkDec: 0, tag: '78W', tagAt: [529, -0.23], hitFont: 15.6,
  hitPad: 5, highSerif: true
});
gsea('cD3', {
  curves: [{pts: d3EcmEs, color: RED}, {pts: d3CamsEs, color: GREEN}, {pts: d3FocalEs, color: CYAN}],
  hits: [{name: d3Labels[0], list: d3EcmHits, color: RED}, {name: d3Labels[1], list: d3FocalHits, color: '#46b5d5'},
    {name: d3Labels[2], list: d3CamsHits, color: GREEN}],
  metric: d3Metric, es: [-0.613, 0.073], esTicks: [0, -0.1, -0.2, -0.3, -0.4, -0.5],
  rk: [-2.15, 1.82], rkTicks: [1.5, 1, 0.5, 0, -0.5, -1, -1.5], rkDec: 1, tag: '260W', tagAt: [380, -0.23],
  hitFont: 14.3, hitPad: 6, rankSerif: true
});
gsea('cE1', {
  curves: [{pts: e1SclcEs, color: RED}],
  hits: [{name: e1Labels[0], list: e1SclcHits, color: RED}],
  metric: e1Metric, es: [-0.434, 0.125], esTicks: [0, -0.1, -0.2, -0.3],
  rk: [-2.11, 2.27], rkTicks: [1, 0, -1], rkDec: 0, tag: '0W', tagAt: [598, -0.147], hitFont: 15.6, hitPad: 10
});
gsea('cE2', {
  curves: [{pts: e2SclcEs, color: RED}, {pts: e2PathEs, color: GREEN}, {pts: e2CycleEs, color: CYAN}],
  hits: [{name: e2Labels[0], list: e2SclcHits, color: RED}, {name: e2Labels[1], list: e2CycleHits, color: '#46b5d5'},
    {name: e2Labels[2], list: e2PathHits, color: GREEN}],
  metric: e2Metric, es: [-0.506, 0.083], esTicks: [0, -0.1, -0.2, -0.3, -0.4],
  rk: [-2.7, 3.14], rkTicks: [2, 1, 0, -1, -2], rkDec: 0, tag: '78W', tagAt: [504, -0.187], hitFont: 15.6, hitPad: 10
});
gsea('cE3', {
  curves: [{pts: e3HedgeEs, color: RED}, {pts: e3HemaEs, color: NAVY}, {pts: e3SclcEs, color: CYAN},
    {pts: e3PathEs, color: GREEN}, {pts: e3MapkEs, color: LILAC}, {pts: e3ColoEs, color: SALMON}],
  hits: [{name: e3Labels[0], list: e3HedgeHits, color: '#f3a394'}, {name: e3Labels[1], list: e3SclcHits, color: '#8fd2e8'},
    {name: e3Labels[2], list: e3PathHits, color: '#78ccb6'}, {name: e3Labels[3], list: e3HemaHits, color: '#8a93c0'},
    {name: e3Labels[4], list: e3ColoHits, color: '#f6c1ae'}, {name: e3Labels[5], list: e3MapkHits, color: '#bcc3da'}],
  metric: e3Metric, es: [-0.595, 0.133], esTicks: [0, -0.1, -0.2, -0.3, -0.4, -0.5],
  rk: [-2.2, 1.82], rkTicks: [1.5, 1, 0.5, 0, -0.5, -1, -1.5], rkDec: 1, tag: '260W', tagAt: [435, -0.198],
  hitFont: 12.2, hitPad: 7, hitBg: 'rgba(255,255,255,0.7)'
});
</script>
</body>
</html>
